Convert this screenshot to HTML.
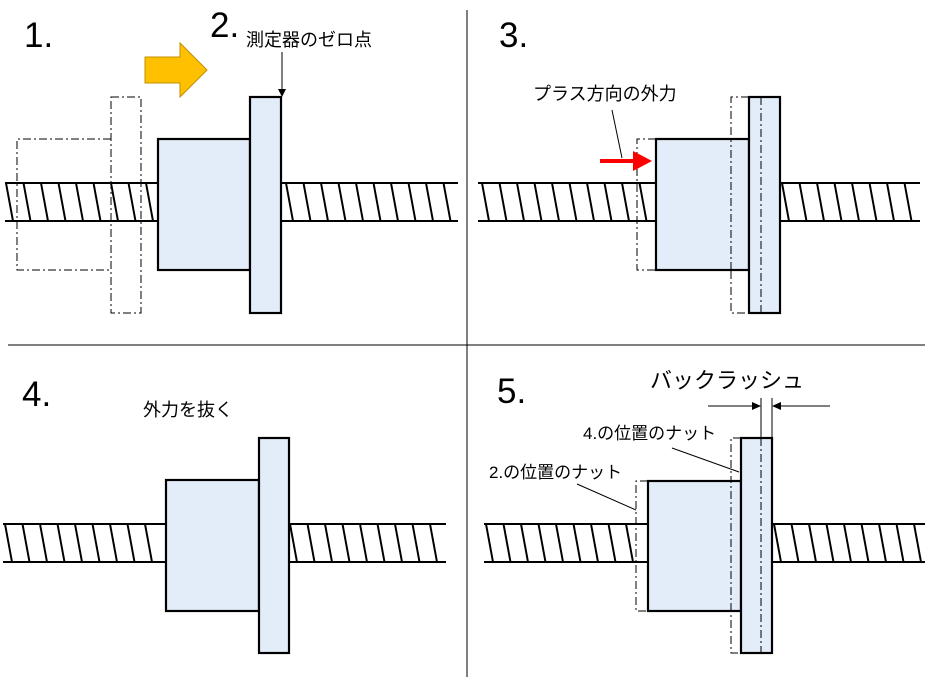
<!DOCTYPE html>
<html><head><meta charset="utf-8"><style>
html,body{margin:0;padding:0;background:#fff;}
svg{display:block;}
text{font-family:"Liberation Sans","Noto Sans CJK JP",sans-serif;fill:#000;}
.num{font-size:35px;}
.lbl{font-size:18px;}
</style></head><body>
<svg id="s" width="934" height="677" viewBox="0 0 934 677" xmlns="http://www.w3.org/2000/svg">
<g stroke="#000" stroke-width="1">
<line x1="467" y1="10" x2="467" y2="677"/>
<line x1="8" y1="345" x2="925" y2="345"/>
</g>
<g id="screws" stroke="#000" stroke-width="2" fill="none"></g>
<g fill="none" stroke="#000" stroke-width="1" stroke-dasharray="8,3,2,3">
<polyline points="111,139 17,139 17,270 111,270"/>
<rect x="111" y="97" width="30" height="216"/>
<polyline points="656,139 637,139 637,270 656,270"/>
<polyline points="749,97 731,97 731,313 749,313"/>
<polyline points="648,481 636,481 636,611 648,611"/>
<polyline points="741,438 731,438 731,653 741,653"/>
</g>
<g fill="#E3EDF9" stroke="#000" stroke-width="2.2">
<rect x="158" y="139" width="92" height="131"/>
<rect x="250" y="97" width="31" height="216"/>
<rect x="656" y="139" width="93" height="131"/>
<rect x="749" y="97" width="31" height="216"/>
<rect x="166" y="480" width="93" height="131"/>
<rect x="259" y="438" width="30" height="215"/>
<rect x="648" y="481" width="93" height="130"/>
<rect x="741" y="438" width="31" height="215"/>
</g>
<g fill="none" stroke="#000" stroke-width="1" stroke-dasharray="8,3,2,3">
<line x1="761" y1="97" x2="761" y2="313"/>
<line x1="761" y1="438" x2="761" y2="653"/>
<line x1="731" y1="270" x2="731" y2="139"/>
<line x1="731" y1="611" x2="731" y2="481"/>
</g>
<polygon points="145,57 180,57 180,43 207,70 180,97 180,83 145,83" fill="#FFC000" stroke="#BF9000" stroke-width="1"/>
<text class="num" x="24" y="47">1.</text>
<text class="num" x="210" y="37">2.</text>
<text class="num" x="499" y="47">3.</text>
<text class="num" x="22" y="406">4.</text>
<text class="num" x="497" y="403">5.</text>
<text class="lbl" x="246" y="46">測定器のゼロ点</text>
<line x1="282" y1="52" x2="282" y2="90" stroke="#000" stroke-width="1"/>
<polygon points="278,89 286,89 282,97" fill="#000"/>
<text class="lbl" x="533" y="100">プラス方向の外力</text>
<line x1="612" y1="110" x2="622" y2="158" stroke="#000" stroke-width="1"/>
<line x1="600" y1="161" x2="636" y2="161" stroke="#f00" stroke-width="4"/>
<polygon points="633,151 652,161 633,171" fill="#f00"/>
<text class="lbl" x="143" y="416">外力を抜く</text>
<text style="font-size:22px" x="650" y="388">バックラッシュ</text>
<g stroke="#000" stroke-width="1">
<line x1="761" y1="398" x2="761" y2="438"/>
<line x1="772" y1="398" x2="772" y2="438"/>
<line x1="708" y1="406" x2="752" y2="406"/>
<line x1="781" y1="406" x2="830" y2="406"/>
<line x1="672" y1="448" x2="739" y2="472"/>
<line x1="577" y1="484" x2="636" y2="510"/>
</g>
<polygon points="752,402 761,406 752,410" fill="#000"/>
<polygon points="781,402 772,406 781,410" fill="#000"/>
<text class="lbl" style="font-size:17px" x="583" y="439">4.の位置のナット</text>
<text class="lbl" style="font-size:17px" x="489" y="478">2.の位置のナット</text>
</svg>
<script>
var g=document.getElementById('screws');
function seg(x1,x2,yt,yb,phase){
 var h='';
 h+='<line x1="'+x1+'" y1="'+yt+'" x2="'+x2+'" y2="'+yt+'"/>';
 h+='<line x1="'+x1+'" y1="'+yb+'" x2="'+x2+'" y2="'+yb+'"/>';
 for(var x=phase;x+7<=x2+1;x+=17.5){ if(x>=x1-1) h+='<line x1="'+x+'" y1="'+yt+'" x2="'+(x+7)+'" y2="'+yb+'"/>'; }
 return h;
}
var h='';
h+=seg(5,158,183,221,6);
h+=seg(281,458,183,221,286);
h+=seg(478,656,183,221,482);
h+=seg(780,920,183,221,782);
h+=seg(3,166,524,562,5);
h+=seg(289,446,524,562,290);
h+=seg(484,648,524,562,486);
h+=seg(772,925,524,562,774);
g.innerHTML=h;
</script>
</body></html>
